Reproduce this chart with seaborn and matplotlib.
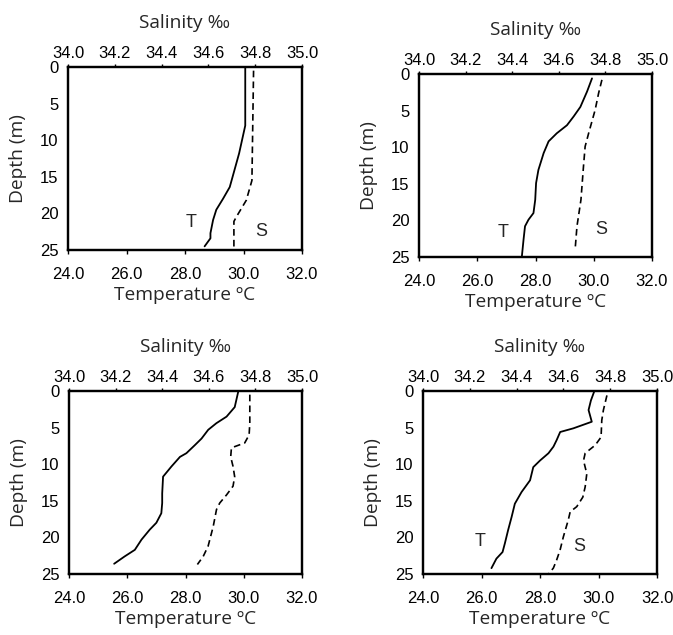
import matplotlib
matplotlib.use("Agg")
import matplotlib.pyplot as plt
import seaborn as sns
import pandas as pd

# ---------------- data ----------------
temp_ticks = [24.0, 26.0, 28.0, 30.0, 32.0]
sal_ticks = [34.0, 34.2, 34.4, 34.6, 34.8, 35.0]
depth_ticks = [0, 5, 10, 15, 20, 25]

# Panel 1 (top-left)
t1_depth = [0, 8, 11.8, 16.4, 18, 19.5, 20.9, 22.7, 23.4, 24.5]
t1_temp = [30.06, 30.06, 29.85, 29.53, 29.3, 29.07, 28.96, 28.87, 28.87, 28.67]
s1_depth = [0.5, 15.5, 18.2, 20.5, 21.1, 25]
s1_sal = [34.793, 34.786, 34.762, 34.719, 34.709, 34.709]

# Panel 2 (top-right)
t2_depth = [0.6, 2.4, 4.5, 5.8, 7, 8.1, 9.2, 10.8, 13.1, 14.9, 17.2, 19, 19.9, 20.8, 22.6, 25]
t2_temp = [29.94, 29.77, 29.54, 29.31, 29.08, 28.73, 28.45, 28.28, 28.1, 28.02, 27.99, 27.93,
           27.76, 27.64, 27.59, 27.53]
s2_depth = [0.8, 2.6, 4.9, 8.1, 9.9, 12.6, 17.2, 20.8, 24]
s2_sal = [34.785, 34.771, 34.756, 34.728, 34.713, 34.706, 34.695, 34.678, 34.670]

# Panel 3 (bottom-left)
t3_depth = [0.1, 2.2, 3.5, 4.4, 5.3, 6.5, 7.4, 8.5, 9, 10.3, 11.7, 14, 15.3, 16.7, 18, 18.95,
            20.3, 21.7, 22.6, 23.6]
t3_temp = [29.81, 29.69, 29.41, 29.06, 28.78, 28.55, 28.32, 28.03, 27.81, 27.52, 27.23, 27.2,
           27.2, 27.17, 27.0, 26.77, 26.49, 26.26, 25.91, 25.55]
s3_depth = [0.5, 4.4, 6, 7.1, 7.6, 7.8, 9, 10.3, 11.7, 13, 14.2, 15.3, 16.2, 18.5, 21.2, 22.6, 23.7]
s3_sal = [34.776, 34.776, 34.773, 34.754, 34.711, 34.697, 34.694, 34.704, 34.711, 34.704,
          34.676, 34.647, 34.633, 34.619, 34.597, 34.576, 34.551]

# Panel 4 (bottom-right)
t4_depth = [0.1, 1.3, 2.6, 4.2, 5.1, 5.6, 6.7, 7.6, 8.5, 9.5, 10.4, 12.2, 13.8, 15.4, 17.2, 19,
            20.8, 22, 22.9, 24.2]
t4_temp = [29.85, 29.74, 29.66, 29.77, 29.14, 28.69, 28.57, 28.46, 28.29, 28.0, 27.77, 27.66,
           27.37, 27.14, 27.03, 26.91, 26.8, 26.72, 26.51, 26.34]
s4_depth = [0.6, 2.6, 4, 6.3, 7.4, 8.5, 9.5, 10.4, 11.3, 13.1, 14.5, 15.8, 16.5, 17.6, 19.9,
            21.7, 23.1, 24.2, 25]
s4_sal = [34.786, 34.771, 34.764, 34.761, 34.736, 34.693, 34.686, 34.693, 34.70, 34.693, 34.683,
          34.657, 34.629, 34.621, 34.6, 34.586, 34.571, 34.557, 34.536]

# curve labels (temperature-axis coordinates) ; None = no label
labels_T = [(28.2, 21.2), (26.9, 21.6), None, (25.95, 20.6)]
labels_S = [(30.6, 22.5), (30.25, 21.3), None, (29.35, 21.3)]

panels = [
    (t1_temp, t1_depth, s1_sal, s1_depth),
    (t2_temp, t2_depth, s2_sal, s2_depth),
    (t3_temp, t3_depth, s3_sal, s3_depth),
    (t4_temp, t4_depth, s4_sal, s4_depth),
]

# ---------------- style ----------------
sns.set_style("white")
plt.rcParams["font.family"] = ["Liberation Sans", "DejaVu Sans"]
LABEL_FONT = ["Open Sans", "DejaVu Sans"]
TICK_FS = 12
LABEL_FS = 13.8
CURVE_FS = 13

W, H = 673, 635
fig = plt.figure(figsize=(W / 100, H / 100), dpi=100)

# axes boxes in pixel coordinates: left, top, right, bottom
boxes = [
    (68, 67, 302, 250),
    (419, 74, 652, 257),
    (69, 391, 302, 574),
    (423, 391, 657, 574),
]

for i, ((tt, td, ss, sd), (l, t, r, b)) in enumerate(zip(panels, boxes)):
    ax = fig.add_axes([l / W, 1 - b / H, (r - l) / W, (b - t) / H])
    ax2 = ax.twiny()

    dfT = pd.DataFrame({"temp": tt, "depth": td})
    dfS = pd.DataFrame({"sal": ss, "depth": sd})
    sns.lineplot(data=dfT, x="temp", y="depth", sort=False, estimator=None,
                 color="black", lw=1.3, ax=ax)
    sns.lineplot(data=dfS, x="sal", y="depth", sort=False, estimator=None,
                 color="black", lw=1.2, linestyle=(0, (4, 2.5)), ax=ax2)

    ax.set_xlim(24, 32)
    ax2.set_xlim(34.0, 35.0)
    ax.set_ylim(25, 0)
    ax.set_xticks(temp_ticks)
    ax.set_xticklabels([f"{v:.1f}" for v in temp_ticks], fontsize=TICK_FS)
    ax2.set_xticks(sal_ticks)
    ax2.set_xticklabels([f"{v:.1f}" for v in sal_ticks], fontsize=TICK_FS)
    ax.set_yticks(depth_ticks)
    ax.set_yticklabels([str(v) for v in depth_ticks], fontsize=TICK_FS)

    ax.tick_params(axis="x", direction="out", length=3, width=1, pad=9, colors="black")
    ax.tick_params(axis="y", direction="out", length=3, width=1, pad=4, colors="black")
    ax2.tick_params(axis="x", direction="out", length=2, width=1, pad=2, colors="black")

    for a in (ax, ax2):
        for sp in a.spines.values():
            sp.set_visible(True)
            sp.set_linewidth(1.6)
            sp.set_color("black")

    ax.set_xlabel("Temperature ºC", fontsize=LABEL_FS, family=LABEL_FONT, labelpad=3)
    ax.set_ylabel("Depth (m)", fontsize=LABEL_FS, family=LABEL_FONT, labelpad=9)
    ax2.set_xlabel("Salinity ‰", fontsize=LABEL_FS, family=LABEL_FONT, labelpad=13)

    if labels_T[i] is not None:
        ax.text(*labels_T[i], "T", fontsize=CURVE_FS, ha="center", va="center")
    if labels_S[i] is not None:
        ax.text(*labels_S[i], "S", fontsize=CURVE_FS, ha="center", va="center")

fig.savefig("out.png", dpi=100, facecolor="white")
